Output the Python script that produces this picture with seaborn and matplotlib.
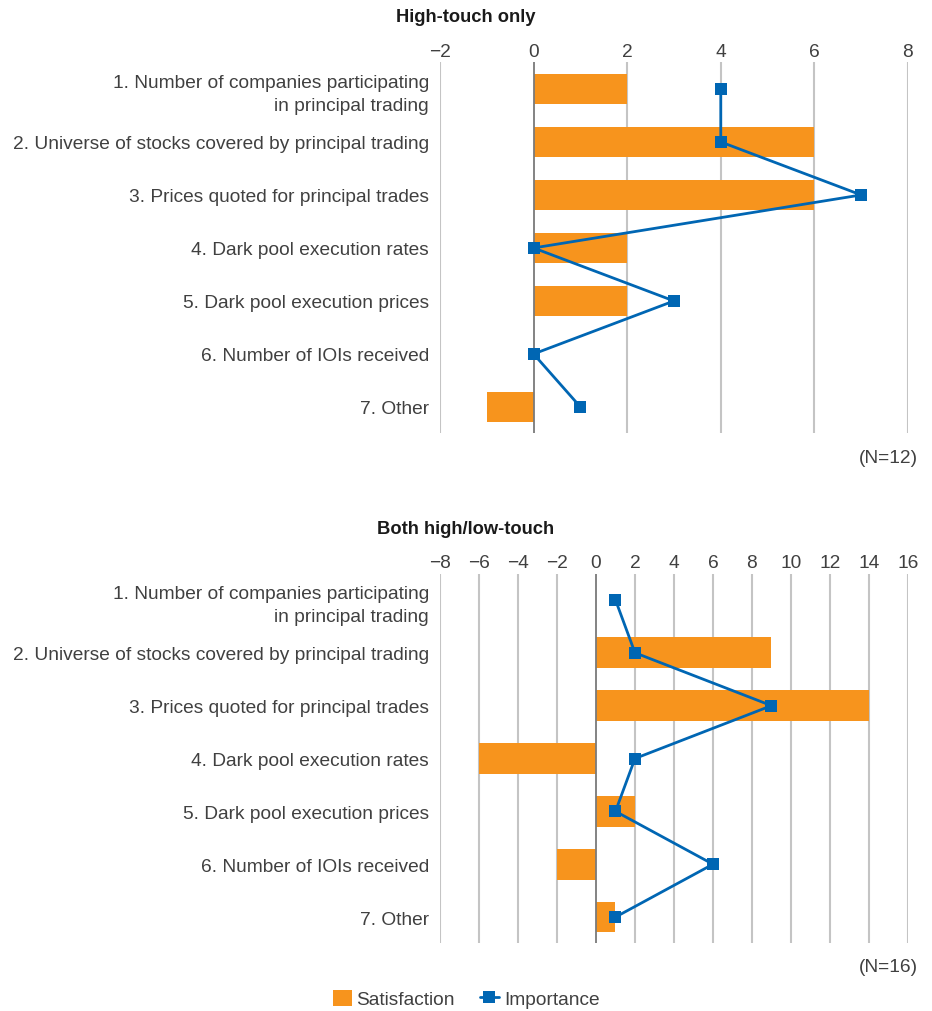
import matplotlib
matplotlib.use("Agg")
import matplotlib.pyplot as plt
from matplotlib.lines import Line2D
from matplotlib.patches import Patch
import seaborn as sns

categories = [
    "1. Number of companies participating\nin principal trading",
    "2. Universe of stocks covered by principal trading",
    "3. Prices quoted for principal trades",
    "4. Dark pool execution rates",
    "5. Dark pool execution prices",
    "6. Number of IOIs received",
    "7. Other",
]

# High-touch only
high_sat = [2, 6, 6, 2, 2, 0, -1]
high_imp = [4, 4, 7, 0, 3, 0, 1]
high_ticks = [-2, 0, 2, 4, 6, 8]

# Both high/low-touch
both_sat = [0, 9, 14, -6, 2, -2, 1]
both_imp = [1, 2, 9, 2, 1, 6, 1]
both_ticks = [-8, -6, -4, -2, 0, 2, 4, 6, 8, 10, 12, 14, 16]

ORANGE = "#F7941D"
BLUE = "#0066B3"
TXT = "#404040"
FS = 13.8

sns.set_theme(style="white")
plt.rcParams["font.family"] = ["Liberation Sans", "DejaVu Sans"]


def draw_panel(ax, sat, imp, ticks):
    sns.barplot(x=sat, y=categories, orient="h", color=ORANGE, width=0.58,
                saturation=1, linewidth=0, ax=ax, zorder=2)
    sns.lineplot(x=imp, y=list(range(len(imp))), orient="y", sort=False,
                 estimator=None, color=BLUE, lw=2, marker="s", markersize=9,
                 markeredgewidth=0, ax=ax, zorder=4)
    ax.set_xlim(ticks[0], ticks[-1])
    ax.set_ylim(6.5, -0.5)
    ax.set_xticks(ticks)
    ax.set_xticklabels(["\u2212" + str(-t) if t < 0 else str(t) for t in ticks])
    ax.xaxis.tick_top()
    ax.tick_params(axis="both", length=0, labelsize=FS, colors=TXT)
    ax.tick_params(axis="x", pad=2)
    ax.tick_params(axis="y", pad=8)
    for lab in ax.get_yticklabels():
        lab.set_linespacing(1.45)
    for t in ticks:
        if t == 0:
            ax.axvline(t, color="#7a7a7a", lw=1.3, zorder=3)
        else:
            ax.axvline(t, color="#c4c4c4", lw=1.5, zorder=1)
    for s in ax.spines.values():
        s.set_visible(False)
    ax.set_xlabel("")
    ax.set_ylabel("")


fig = plt.figure(figsize=(9.32, 10.12), dpi=100)
ax1 = fig.add_axes([0.4721, 0.5707, 0.5021, 0.3666])
ax2 = fig.add_axes([0.4721, 0.0667, 0.5021, 0.3656])

draw_panel(ax1, high_sat, high_imp, high_ticks)
draw_panel(ax2, both_sat, both_imp, both_ticks)

fig.text(0.5, 1 - 18 / 1012, "High-touch only", ha="center", va="center",
         fontsize=FS - 0.6, fontweight="bold", color="#1a1a1a")
fig.text(0.5, 1 - 530 / 1012, "Both high/low-touch", ha="center", va="center",
         fontsize=FS - 0.6, fontweight="bold", color="#1a1a1a")
fig.text(918 / 932, 1 - 459 / 1012, "(N=12)", ha="right", va="center",
         fontsize=FS, color=TXT)
fig.text(918 / 932, 1 - 968 / 1012, "(N=16)", ha="right", va="center",
         fontsize=FS, color=TXT)

handles = [
    Patch(facecolor=ORANGE, edgecolor="none", label="Satisfaction"),
    Line2D([0], [0], color=BLUE, lw=2, marker="s", markersize=8,
           markeredgewidth=0, label="Importance"),
]
fig.legend(handles=handles, loc="center", bbox_to_anchor=(0.5, 1 - 1000 / 1012),
           ncol=2, frameon=False, fontsize=FS, handlelength=1.0,
           handleheight=0.9, handletextpad=0.25, columnspacing=1.3,
           labelcolor=TXT)

fig.savefig("out.png", dpi=100)
